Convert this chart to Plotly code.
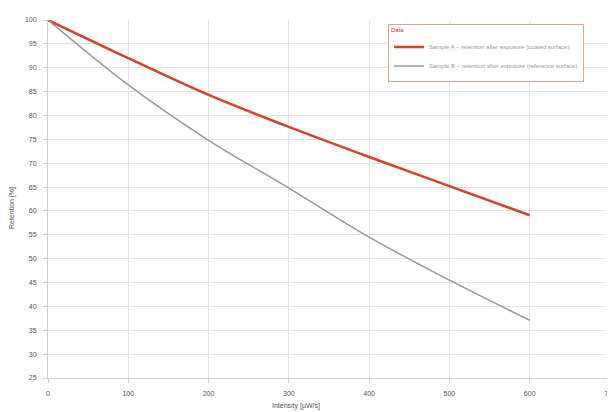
import plotly.graph_objects as go

x_vals = [0, 100, 200, 300, 400, 500, 600]
red_vals = [100, 92.0, 84.3, 77.6, 71.3, 65.2, 59.1]
gray_vals = [100, 86.4, 74.8, 64.8, 54.5, 45.5, 37.1]
red_name = "Sample A – retention after exposure (coated surface)"
gray_name = "Sample B – retention after exposure (reference surface)"
x_title = "Intensity [µW/s]"
y_title = "Retention [%]"
x_ticks = [0, 100, 200, 300, 400, 500, 600, 700]
y_ticks = list(range(25, 101, 5))

fig = go.Figure()
fig.add_trace(go.Scatter(x=x_vals, y=red_vals, mode="lines", name=red_name,
                         line=dict(color="#d8432a", width=2.5, shape="spline")))
fig.add_trace(go.Scatter(x=x_vals, y=gray_vals, mode="lines", name=gray_name,
                         line=dict(color="#9a9a9a", width=1.5, shape="spline")))

fig.update_layout(
    width=615, height=412,
    margin=dict(l=40, r=13, t=12, b=42),
    paper_bgcolor="white", plot_bgcolor="white",
    font=dict(family="Liberation Sans, Arial", size=7, color="#555"),
    legend=dict(x=0.605, y=0.99, xanchor="left", yanchor="top",
                bgcolor="white", bordercolor="#e6a090", borderwidth=1,
                title=dict(text="Data", font=dict(size=6, color="#c0392b")),
                font=dict(size=6, color="#999"), itemwidth=30),
    xaxis=dict(range=[0, 700], tickvals=x_ticks, showgrid=True, gridcolor="#e4e4e4",
               gridwidth=1, zeroline=False, showline=True, linecolor="#cfcfcf",
               ticks="outside", ticklen=4, tickcolor="#cfcfcf", ticklabelstandoff=5,
               automargin=False),
    yaxis=dict(range=[25, 100], tickvals=y_ticks, showgrid=True, gridcolor="#e4e4e4",
               gridwidth=1, zeroline=False, showline=True, linecolor="#cfcfcf",
               ticks="outside", ticklen=4, tickcolor="#cfcfcf", ticklabelstandoff=5,
               automargin=False),
    annotations=[
        dict(text=x_title, xref="paper", yref="paper", x=0.441, y=0,
             xanchor="center", yanchor="top", yshift=-22, showarrow=False,
             font=dict(size=7, color="#555")),
        dict(text=y_title, xref="paper", yref="paper", x=-0.064, y=0.475,
             xanchor="center", yanchor="middle", textangle=-90, showarrow=False,
             font=dict(size=7, color="#555")),
    ],
)
fig.write_html("out.html")
